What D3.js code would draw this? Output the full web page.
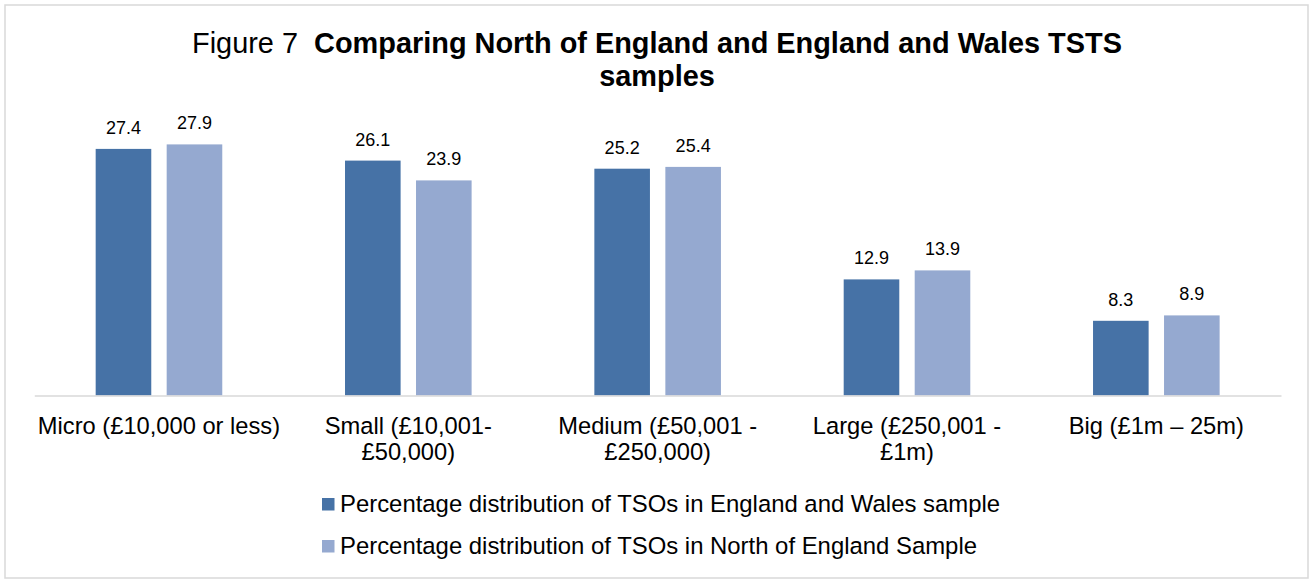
<!DOCTYPE html>
<html>
<head>
<meta charset="utf-8">
<script src="https://cdn.jsdelivr.net/npm/d3@7"></script>
<style>
	body { margin: 0; background: #fff; }
	svg { display: block; font-family: "Liberation Sans", Arial, sans-serif; }
</style>
</head>
<body>
<svg id="chart" width="1311" height="579"></svg>
<script>
const categories = [
	"Micro (£10,000 or less)",
	"Small (£10,001-\n£50,000)",
	"Medium (£50,001 -\n£250,000)",
	"Large (£250,001 -\n£1m)",
	"Big (£1m – 25m)"
];
const seriesNames = [
	"Percentage distribution of TSOs in England and Wales sample",
	"Percentage distribution of TSOs in North of England Sample"
];
const englandWales = [27.4, 26.1, 25.2, 12.9, 8.3];
const northEngland = [27.9, 23.9, 25.4, 13.9, 8.9];
const seriesColors = ["#4672a6", "#95a9d0"];

chart = {

	init: function(){
		const me = chart;

		me.svg = d3.select("#chart");
		me.values = [englandWales, northEngland];

		// outer frame
		me.svg.append("rect")
			.attr("x", 5).attr("y", 5)
			.attr("width", 1303).attr("height", 573)
			.attr("fill", "none")
			.attr("stroke", "#d9d9d9")
			.attr("stroke-width", 1.5);

		me.x0 = d3.scaleBand().domain(categories).range([34.3, 1281]);
		const bw = me.x0.bandwidth();
		me.x1 = d3.scaleBand().domain([0, 1])
			.range([bw / 2 - 63.3, bw / 2 + 63.3])
			.paddingInner(0.217);
		me.y = d3.scaleLinear().domain([0, 30]).range([395.5, 125.5]);

		me.title();
		me.bars();
		me.axis();
		me.legend();
	},

	title: function(){
		const me = chart;

		const t = me.svg.append("text")
			.attr("x", 657)
			.attr("y", 52.5)
			.attr("text-anchor", "middle")
			.attr("font-size", 28.9)
			.style("white-space", "pre");
		t.append("tspan").text("Figure 7  ");
		t.append("tspan").attr("font-weight", "bold")
			.text("Comparing North of England and England and Wales TSTS");

		me.svg.append("text")
			.attr("x", 657)
			.attr("y", 85.5)
			.attr("text-anchor", "middle")
			.attr("font-size", 28.9)
			.attr("font-weight", "bold")
			.text("samples");
	},

	bars: function(){
		const me = chart;

		const groups = me.svg.append("g").selectAll("g")
			.data(categories)
			.join("g")
			.attr("transform", d => "translate(" + me.x0(d) + ",0)");

		groups.selectAll("rect")
			.data((d, i) => me.values.map((s, k) => ({k: k, v: s[i]})))
			.join("rect")
			.attr("x", d => me.x1(d.k))
			.attr("width", me.x1.bandwidth())
			.attr("y", d => me.y(d.v))
			.attr("height", d => me.y(0) - me.y(d.v))
			.attr("fill", d => seriesColors[d.k]);

		groups.selectAll("text")
			.data((d, i) => me.values.map((s, k) => ({k: k, v: s[i]})))
			.join("text")
			.attr("x", d => me.x1(d.k) + me.x1.bandwidth() / 2)
			.attr("y", d => me.y(d.v) - 15)
			.attr("text-anchor", "middle")
			.attr("font-size", 18)
			.attr("fill", "#000")
			.text(d => d.v.toFixed(1));
	},

	axis: function(){
		const me = chart;

		const g = me.svg.append("g")
			.attr("transform", "translate(0," + me.y(0) + ")")
			.call(d3.axisBottom(me.x0).tickSize(0).tickSizeOuter(0));

		g.select(".domain")
			.attr("stroke", "#d9d9d9")
			.attr("stroke-width", 1.5);

		g.selectAll(".tick text").each(function(d){
			const txt = d3.select(this)
				.attr("y", 0)
				.attr("dy", null)
				.attr("font-size", 23.7)
				.attr("font-family", "Liberation Sans, Arial, sans-serif")
				.attr("fill", "#000")
				.text(null);
			d.split("\n").forEach(function(line, i){
				txt.append("tspan")
					.attr("x", 0)
					.attr("y", 38 + i * 26)
					.text(line);
			});
		});
	},

	legend: function(){
		const me = chart;

		const items = me.svg.append("g").selectAll("g")
			.data(seriesNames)
			.join("g")
			.attr("transform", (d, i) => "translate(322," + (498 + i * 42) + ")");

		items.append("rect")
			.attr("width", 12.5)
			.attr("height", 12.5)
			.attr("fill", (d, i) => seriesColors[i]);

		items.append("text")
			.attr("x", 18)
			.attr("y", 13.5)
			.attr("font-size", 23.9)
			.attr("fill", "#000")
			.text(d => d);
	}
}

chart.init();
</script>
</body>
</html>
